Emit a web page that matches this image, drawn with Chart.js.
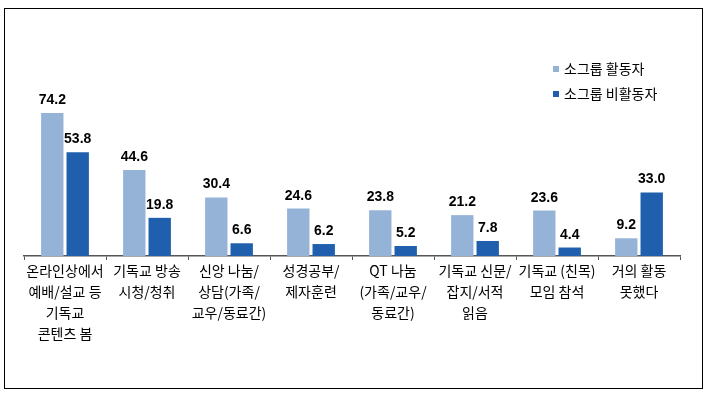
<!DOCTYPE html>
<html>
<head>
<meta charset="utf-8">
<script src="https://cdn.jsdelivr.net/npm/chart.js@4"></script>
<style>
  body { margin: 0; background: #fff; }
  #wrap { position: relative; width: 707px; height: 395px; }
  #frame { position: absolute; left: 4px; top: 8px; width: 697px; height: 379px; border: 1.5px solid #000; }
  canvas { position: absolute; left: 0; top: 0; }
</style>
</head>
<body>
<div id="wrap">
  <div id="frame"></div>
  <canvas id="chart" width="707" height="395"></canvas>
</div>
<script>
const categories = [
  ["온라인상에서", "예배/설교 등", "기독교", "콘텐츠 봄"],
  ["기독교 방송", "시청/청취"],
  ["신앙 나눔/", "상담(가족/", "교우/동료간)"],
  ["성경공부/", "제자훈련"],
  ["QT 나눔", "(가족/교우/", "동료간)"],
  ["기독교 신문/", "잡지/서적", "읽음"],
  ["기독교 (친목)", "모임 참석"],
  ["거의 활동", "못했다"],
];
const activeValues = [74.2, 44.6, 30.4, 24.6, 23.8, 21.2, 23.6, 9.2];
const inactiveValues = [53.8, 19.8, 6.6, 6.2, 5.2, 7.8, 4.4, 33.0];
const seriesNames = ["소그룹 활동자", "소그룹 비활동자"];

const valueLabels = {
  id: "valueLabels",
  afterDatasetsDraw(chart) {
    const ctx = chart.ctx;
    ctx.save();
    ctx.font = 'bold 14px "Liberation Sans", Arial, sans-serif';
    ctx.fillStyle = "#000";
    ctx.textAlign = "center";
    ctx.textBaseline = "alphabetic";
    chart.data.datasets.forEach((ds, i) => {
      chart.getDatasetMeta(i).data.forEach((bar, j) => {
        ctx.fillText(ds.data[j].toFixed(1), bar.x, bar.y - 9);
      });
    });
    ctx.restore();
  },
};

const cornerLegend = {
  id: "cornerLegend",
  afterDraw(chart) {
    const ctx = chart.ctx;
    ctx.save();
    ctx.font = '14px "Noto Sans CJK KR", sans-serif';
    ctx.textBaseline = "middle";
    chart.data.datasets.forEach((ds, i) => {
      const y = 69 + i * 25;
      ctx.fillStyle = ds.backgroundColor;
      ctx.fillRect(553, y - 3, 6, 6);
      ctx.fillStyle = "#000";
      ctx.fillText(ds.label, 564, y);
    });
    ctx.restore();
  },
};

new Chart(document.getElementById("chart"), {
  type: "bar",
  data: {
    labels: categories,
    datasets: [
      {
        label: seriesNames[0],
        data: activeValues,
        backgroundColor: "#95B3D7",
        categoryPercentage: 0.62,
        barPercentage: 0.88,
      },
      {
        label: seriesNames[1],
        data: inactiveValues,
        backgroundColor: "#1F5FAD",
        categoryPercentage: 0.62,
        barPercentage: 0.88,
      },
    ],
  },
  options: {
    responsive: false,
    animation: false,
    layout: {
      padding: { left: 24, right: 27, top: 44, bottom: 0 },
    },
    scales: {
      x: {
        grid: {
          drawOnChartArea: false,
          drawTicks: true,
          tickLength: 4,
          color: "#555",
        },
        border: {
          display: true,
          color: "#555",
          width: 1.5,
        },
        ticks: {
          color: "#000",
          padding: 0,
          maxRotation: 0,
          autoSkip: false,
          font: { family: '"Noto Sans CJK KR", sans-serif', size: 14, lineHeight: 1.5 },
        },
        afterFit(scale) {
          scale.height = 139;
        },
      },
      y: {
        display: false,
        min: 0,
        max: 110,
      },
    },
    plugins: {
      legend: { display: false },
      tooltip: { enabled: false },
    },
  },
  plugins: [valueLabels, cornerLegend],
});
</script>
</body>
</html>
